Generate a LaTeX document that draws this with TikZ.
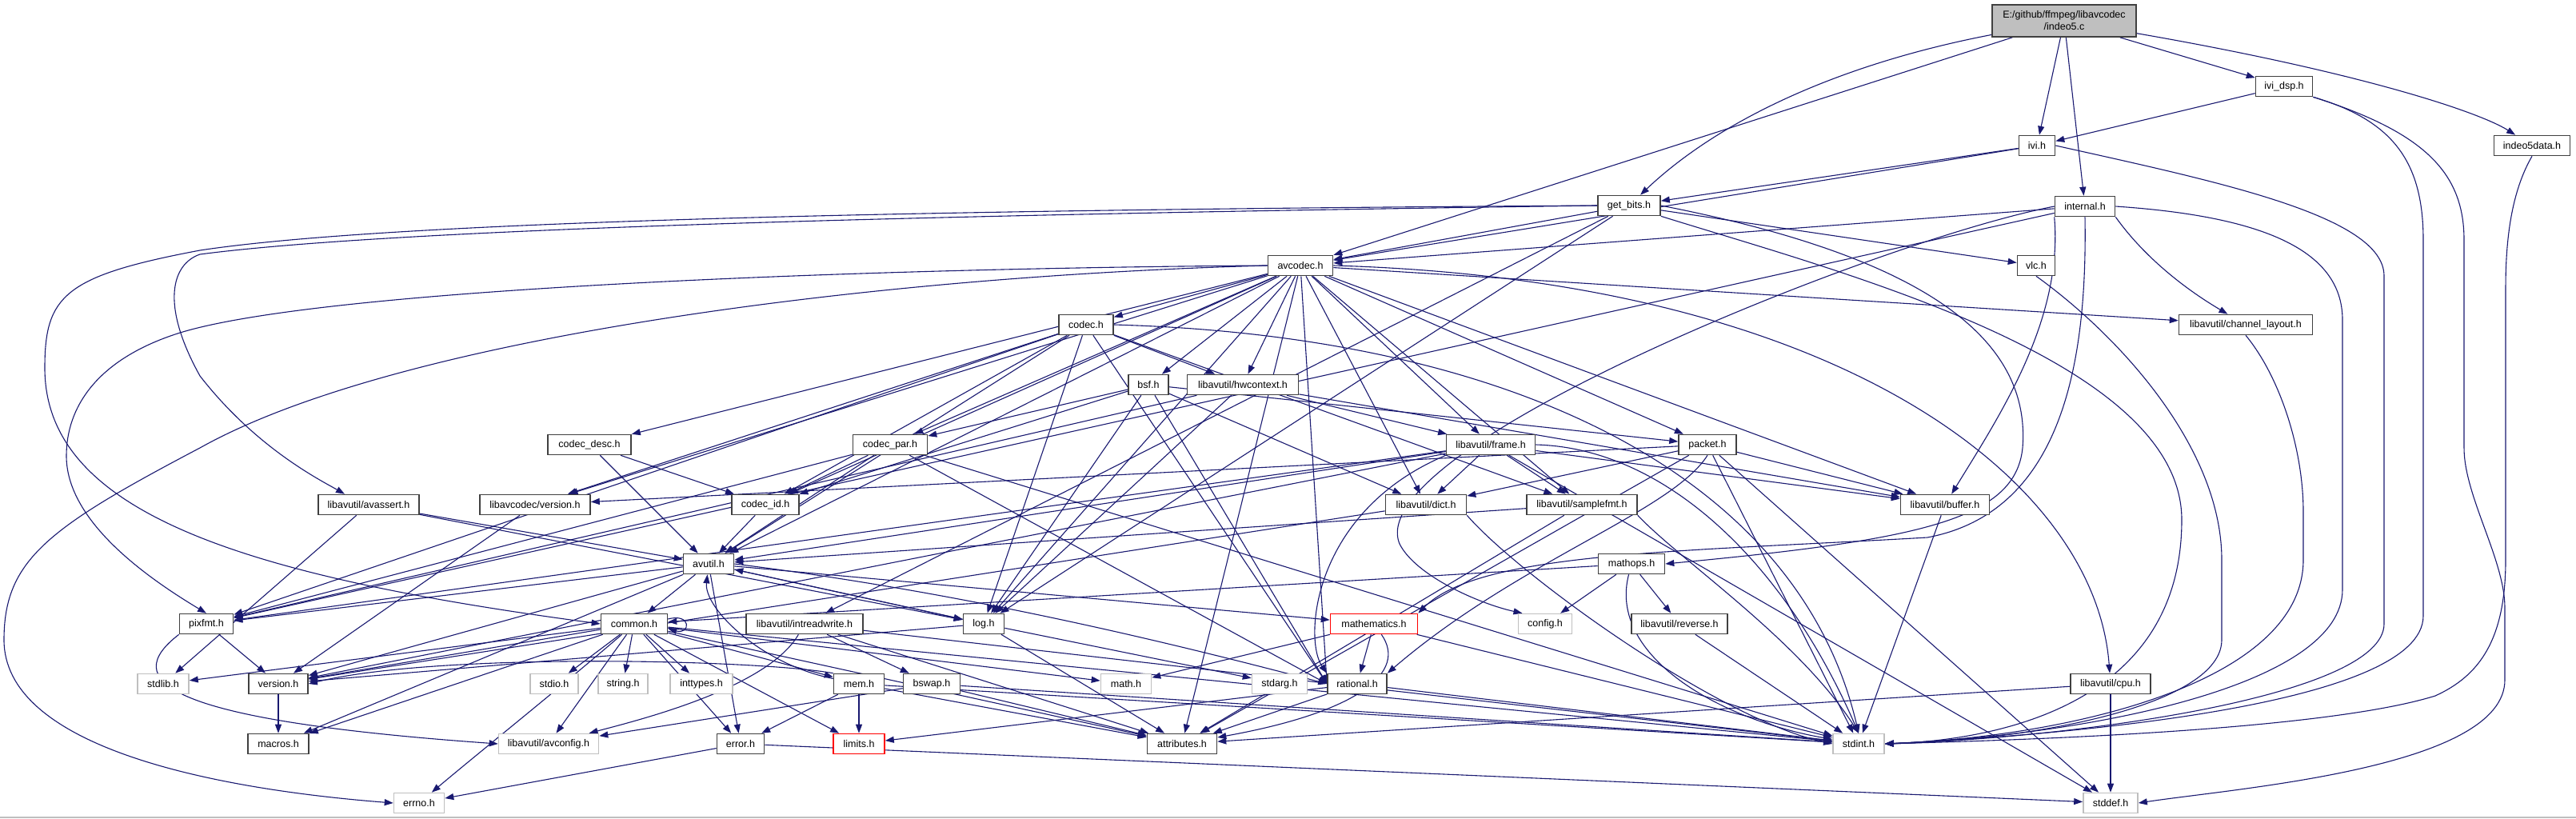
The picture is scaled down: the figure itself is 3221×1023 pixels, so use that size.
\documentclass[tikz,border=0pt]{standalone}
\usepackage{fontspec}
\setmainfont{Liberation Sans}
\usetikzlibrary{arrows.meta}
\definecolor{edgec}{HTML}{191970}
\definecolor{grayb}{HTML}{BFBFBF}
\definecolor{boxb}{HTML}{404040}
\pgfdeclarelayer{bg}
\pgfsetlayers{bg,main}
\tikzset{
  nb/.style={draw=boxb, line width=1.6pt, fill=white, minimum height=25pt, inner sep=0pt, font=\fontsize{12.5}{15}\selectfont},
  sysb/.style={nb, draw=grayb},
  trb/.style={nb, draw=red},
  rootb/.style={nb, fill=grayb, minimum height=40pt, align=center},
  e/.style={draw=edgec, line width=1.1pt, -{Triangle[length=11pt,width=8pt]}},
}
\begin{document}
\begin{tikzpicture}[x=1pt,y=-1pt]
\useasboundingbox (0,0) rectangle (3221,1023);
% nodes
\node[rootb, minimum width=180pt] (i5) at (2581,26) {E:/github/ffmpeg/libavcodec\\/indeo5.c};
\node[nb, minimum width=71pt] (ividsp) at (2856,108) {ivi\_dsp.h};
\node[nb, minimum width=45pt] (ivi) at (2547,182) {ivi.h};
\node[nb, minimum width=95pt] (i5data) at (3166,182) {indeo5data.h};
\node[nb, minimum width=75pt] (internal) at (2607,258) {internal.h};
\node[nb, minimum width=78pt] (getbits) at (2037,257) {get\_bits.h};
\node[nb, minimum width=47pt] (vlc) at (2546,332) {vlc.h};
\node[nb, minimum width=81pt] (avcodec) at (1626,332) {avcodec.h};
\node[nb, minimum width=167pt] (chlayout) at (2808,406) {libavutil/channel\_layout.h};
\node[nb, minimum width=68pt] (codec) at (1358,406) {codec.h};
\node[nb, minimum width=50pt] (bsf) at (1436,481) {bsf.h};
\node[nb, minimum width=139pt] (hwcontext) at (1554,481) {libavutil/hwcontext.h};
\node[nb, minimum width=104pt] (codecdesc) at (737,556) {codec\_desc.h};
\node[nb, minimum width=93pt] (codecpar) at (1113,556) {codec\_par.h};
\node[nb, minimum width=111pt] (frame) at (1864,556) {libavutil/frame.h};
\node[nb, minimum width=72pt] (packet) at (2135,556) {packet.h};
\node[nb, minimum width=126pt] (avassert) at (461,631) {libavutil/avassert.h};
\node[nb, minimum width=138pt] (lavcversion) at (669,631) {libavcodec/version.h};
\node[nb, minimum width=84pt] (codecid) at (957,631) {codec\_id.h};
\node[nb, minimum width=101pt] (dict) at (1783,631) {libavutil/dict.h};
\node[nb, minimum width=138pt] (samplefmt) at (1978,631) {libavutil/samplefmt.h};
\node[nb, minimum width=111pt] (buffer) at (2432,631) {libavutil/buffer.h};
\node[nb, minimum width=63pt] (avutil) at (886,705) {avutil.h};
\node[nb, minimum width=83pt] (mathops) at (2040,705) {mathops.h};
\node[nb, minimum width=67pt] (pixfmt) at (258,780) {pixfmt.h};
\node[nb, minimum width=83pt] (common) at (793,780) {common.h};
\node[nb, minimum width=146pt] (intreadwrite) at (1006,780) {libavutil/intreadwrite.h};
\node[nb, minimum width=51pt] (log) at (1230,780) {log.h};
\node[trb, minimum width=109pt] (mathematics) at (1718,780) {mathematics.h};
\node[sysb, minimum width=67pt] (config) at (1932,780) {config.h};
\node[nb, minimum width=120pt] (reverse) at (2100,780) {libavutil/reverse.h};
\node[sysb, minimum width=64pt] (stdlib) at (204,855) {stdlib.h};
\node[nb, minimum width=74pt] (version) at (348,855) {version.h};
\node[sysb, minimum width=60pt] (stdio) at (693,855) {stdio.h};
\node[sysb, minimum width=62pt] (string) at (779,855) {string.h};
\node[sysb, minimum width=78pt] (inttypes) at (877,855) {inttypes.h};
\node[nb, minimum width=63pt] (mem) at (1074,855) {mem.h};
\node[nb, minimum width=71pt] (bswap) at (1165,855) {bswap.h};
\node[sysb, minimum width=63pt] (math) at (1408,855) {math.h};
\node[sysb, minimum width=69pt] (stdarg) at (1600,855) {stdarg.h};
\node[nb, minimum width=74pt] (rational) at (1697,855) {rational.h};
\node[nb, minimum width=100pt] (cpu) at (2639,855) {libavutil/cpu.h};
\node[nb, minimum width=76pt] (macros) at (348,930) {macros.h};
\node[sysb, minimum width=125pt] (avconfig) at (686,930) {libavutil/avconfig.h};
\node[nb, minimum width=59pt] (error) at (926,930) {error.h};
\node[trb, minimum width=64pt] (limits) at (1074,930) {limits.h};
\node[nb, minimum width=87pt] (attributes) at (1478,930) {attributes.h};
\node[sysb, minimum width=64pt] (stdint) at (2324,930) {stdint.h};
\node[sysb, minimum width=63pt] (errno) at (524,1004) {errno.h};
\node[sysb, minimum width=68pt] (stddef) at (2639,1004) {stddef.h};

\begin{pgfonlayer}{bg}
\draw[grayb, line width=1.5pt] (0,1022) -- (3221,1022);
% indeo5.c
\draw[e] (i5) .. controls (2300,80) and (2150,150) .. (getbits);
\draw[e] (i5) -- (avcodec);
\draw[e] (i5) -- (ivi);
\draw[e] (i5) -- (internal);
\draw[e] (i5) -- (ividsp);
\draw[e] (i5) .. controls (2950,90) and (3100,140) .. (i5data);
% ivi_dsp
\draw[e] (ividsp) -- (ivi);
\draw[e] (ividsp.south east) .. controls (2990,150) and (3030,200) .. (3030,300) -- (3030,770) .. controls (3030,880) and (2600,918) .. (stdint.east);
\draw[e] (ividsp.south east) .. controls (3030,165) and (3081,215) .. (3081,300) -- (3081,560) .. controls (3081,620) and (3132,700) .. (3132,760) -- (3132,850) .. controls (3132,960) and (2800,985) .. (stddef.east);
% indeo5data
\draw[e] (i5data.south) .. controls (3140,240) and (3133,300) .. (3133,360) -- (3133,700) .. controls (3133,800) and (3100,845) .. (3045,870) .. controls (2900,915) and (2500,926) .. (stdint.east);
% ivi
\draw[e] (ivi) -- (getbits);
\draw[e] (ivi) -- (avcodec);
\draw[e] (ivi.east) .. controls (2772,227) and (2981,270) .. (2981,345) -- (2981,780) .. controls (2981,870) and (2600,922) .. (stdint.east);
% internal
\draw[e] (internal) -- (avcodec);
\draw[e] (internal.south west) .. controls (2580,400) and (2500,520) .. (buffer);
\draw[e] (internal.south east) .. controls (2680,320) and (2730,360) .. (chlayout);
\draw[e] (internal.south) .. controls (2610,450) and (2580,640) .. (2410,672) .. controls (2100,690) and (1850,690) .. (mathematics.north east);
\draw[e] (internal) -- (pixfmt);
\draw[e] (internal.west) .. controls (2350,300) and (1700,560) .. (1750,680) .. controls (1770,720) and (1850,755) .. (config.155);
\draw[e] (internal.east) .. controls (2823,270) and (2929,310) .. (2929,400) -- (2929,737) .. controls (2929,860) and (2600,920) .. (stdint.east);
% get_bits
\draw[e] (getbits) -- (avcodec);
\draw[e] (getbits.west) .. controls (1200,262) and (500,275) .. (250,313) .. controls (80,345) and (56,370) .. (56,460) .. controls (56,640) and (300,720) .. (common.west);
\draw[e] (getbits.west) .. controls (1200,268) and (500,285) .. (250,318) .. controls (215,330) and (200,380) .. (250,470) .. controls (320,560) and (400,600) .. ([xshift=-30pt]avassert.north);
\draw[e] (getbits) -- (intreadwrite);
\draw[e] (getbits) -- (log);
\draw[e] (getbits.east) .. controls (2400,320) and (2540,420) .. (2529,560) .. controls (2520,650) and (2400,675) .. (mathops.east);
\draw[e] (getbits) -- (vlc);
\draw[e] (getbits.south east) .. controls (2300,340) and (2728,450) .. (2728,650) .. controls (2728,880) and (2500,925) .. (stdint.east);
% vlc, mathops, reverse
\draw[e] (vlc.south) .. controls (2650,420) and (2778,560) .. (2778,700) -- (2778,800) .. controls (2778,880) and (2550,925) .. (stdint.east);
\draw[e] (mathops) -- (common);
\draw[e] (mathops) -- (reverse);
\draw[e] (mathops) -- (config);
\draw[e] (mathops) .. controls (2010,820) and (2150,900) .. (stdint);
\draw[e] (reverse) -- (stdint);
% avcodec
\draw[e] (avcodec.west) .. controls (1100,345) and (500,420) .. (250,560) .. controls (60,660) and (5,700) .. (5,800) .. controls (5,930) and (250,985) .. (errno.west);
\draw[e] (avcodec) -- (samplefmt);
\draw[e] (avcodec) -- (attributes);
\draw[e] (avcodec) -- (avutil);
\draw[e] (avcodec) -- (buffer);
\draw[e] (avcodec.east) .. controls (2300,350) and (2620,600) .. (cpu);
\draw[e] (avcodec) -- (chlayout);
\draw[e] (avcodec) -- (dict);
\draw[e] (avcodec) -- (frame);
\draw[e] (avcodec) -- (hwcontext);
\draw[e] (avcodec) -- (log);
\draw[e] (avcodec.west) .. controls (1100,335) and (400,360) .. (222,417) .. controls (120,450) and (83,510) .. (83,570) .. controls (83,650) and (180,720) .. (pixfmt.north);
\draw[e] (avcodec) -- (rational.west);
\draw[e] (avcodec) -- (bsf);
\draw[e] (avcodec) -- (codec);
\draw[e] (avcodec) -- (codecdesc);
\draw[e] (avcodec) -- (codecpar);
\draw[e] (avcodec) -- (codecid);
\draw[e] (avcodec) -- (packet);
\draw[e] (avcodec) -- (lavcversion);
% codec
\draw[e] (codec.east) .. controls (1900,420) and (2250,600) .. (stdint.north);
\draw[e] (codec) -- (avutil);
\draw[e] (codec) -- (hwcontext);
\draw[e] (codec) -- (log);
\draw[e] (codec) -- (pixfmt);
\draw[e] (codec) -- (rational.west);
\draw[e] (codec) -- (samplefmt);
\draw[e] (codec) -- (codecid);
\draw[e] (codec) -- (lavcversion);
% codec_desc, codec_id, codec_par
\draw[e] (codecdesc) -- (avutil);
\draw[e] (codecdesc) -- (codecid);
\draw[e] (codecid) -- (avutil);
\draw[e] (codecpar) -- (stdint);
\draw[e] (codecpar) -- (avutil);
\draw[e] (codecpar) -- (rational.west);
\draw[e] (codecpar) -- (pixfmt);
\draw[e] (codecpar) -- (codecid);
% bsf
\draw[e] (bsf) -- (dict);
\draw[e] (bsf) -- (log);
\draw[e] (bsf) -- (rational.west);
\draw[e] (bsf) -- (codecid);
\draw[e] (bsf) -- (codecpar);
\draw[e] (bsf) -- (packet);
% packet
\draw[e] (packet) -- (stddef);
\draw[e] (packet) -- (stdint);
\draw[e] (packet) -- (attributes);
\draw[e] (packet) -- (buffer);
\draw[e] (packet) -- (dict);
\draw[e] (packet.south) .. controls (2090,640) and (1900,700) .. (rational.north east);
\draw[e] (packet) -- (lavcversion);
\draw[e] (lavcversion) -- (version);
% hwcontext
\draw[e] (hwcontext) -- (buffer);
\draw[e] (hwcontext) -- (frame);
\draw[e] (hwcontext) -- (log);
\draw[e] (hwcontext) -- (pixfmt);
% frame
\draw[e] (frame) -- (stddef);
\draw[e] (frame.east) .. controls (2080,560) and (2230,700) .. (stdint.north);
\draw[e] (frame) -- (avutil);
\draw[e] (frame) -- (buffer);
\draw[e] (frame) -- (dict);
\draw[e] (frame.south west) .. controls (1640,640) and (1630,800) .. (rational.north west);
\draw[e] (frame) -- (samplefmt);
\draw[e] (frame) -- (pixfmt);
\draw[e] (frame) -- (version);
% dict, samplefmt, buffer, chlayout, cpu
\draw[e] (dict.south east) .. controls (1900,720) and (2150,900) .. (stdint.west);
\draw[e] (dict) -- (version);
\draw[e] (samplefmt.south east) .. controls (2100,700) and (2250,800) .. (stdint.north);
\draw[e] (samplefmt) -- (avutil);
\draw[e] (samplefmt) -- (attributes);
\draw[e] (buffer) -- (stdint);
\draw[e] (chlayout.south) .. controls (2850,470) and (2880,560) .. (2880,640) -- (2880,700) .. controls (2880,850) and (2600,920) .. (stdint.east);
\draw[e] (cpu) -- (stddef);
\draw[e] (cpu) -- (attributes);
% avassert
\draw[e] (avassert) -- (stdlib);
\draw[e] (avassert) -- (avutil);
\draw[e] (avassert) -- (log);
% avutil
\draw[e] (avutil) -- (common);
\draw[e] (avutil) -- (error);
\draw[e] (avutil.east) .. controls (1200,740) and (1450,800) .. (rational.west);
\draw[e] (avutil) -- (version);
\draw[e] (avutil) -- (macros);
\draw[e] (avutil) -- (mathematics);
\draw[e] (avutil) -- (log);
\draw[e] (avutil) -- (pixfmt);
% common
\draw[e] (common) .. controls (700,860) and (600,940) .. (errno);
\draw[e] (common) -- (inttypes);
\draw[e] (common) -- (limits);
\draw[e] (common) -- (math);
\draw[e] (common) -- (stdint);
\draw[e] (common) -- (stdio);
\draw[e] (common) -- (stdlib);
\draw[e] (common) -- (string);
\draw[e] (common) -- (attributes);
\draw[e] (common) -- (macros);
\draw[e] (common) -- (version);
\draw[e] (common) -- (avconfig);
\draw[e] (common) -- (mem);
\draw[e] (common) -- (error);
\draw[e] ([yshift=6pt]common.east) .. controls +(30,-8) and +(28,8) .. ([yshift=-6pt]common.east);
% log
\draw[e] (log) -- (stdarg);
\draw[e] (log) -- (avutil);
\draw[e] (log) -- (attributes);
\draw[e] (log) -- (version);
% rational, mathematics
\draw[e] (rational) -- (stdint);
\draw[e] (rational) -- (limits);
\draw[e] (rational) -- (attributes);
\draw[e] (mathematics) -- (stdint);
\draw[e] (mathematics) -- (math);
\draw[e] (mathematics) .. controls (1760,840) and (1700,890) .. (attributes);
\draw[e] (mathematics) -- (rational);
% pixfmt, version
\draw[e] (pixfmt.south west) .. controls (150,850) and (200,900) .. (avconfig.west);
\draw[e] (pixfmt) -- (version);
\draw[e] (version) -- (macros);
% mem
\draw[e] (mem) -- (limits);
\draw[e] (mem) -- (stdint);
\draw[e] (mem) -- (attributes);
\draw[e] (mem) -- (error);
\draw[e] (mem) .. controls (950,830) and (880,760) .. (avutil);
\draw[e] (mem.north west) .. controls (950,825) and (550,815) .. (version.east);
% error
\draw[e] (error) -- (errno);
\draw[e] (error) -- (stddef);
% intreadwrite, bswap
\draw[e] (intreadwrite) -- (stdint);
\draw[e] (intreadwrite) .. controls (960,860) and (800,900) .. (avconfig);
\draw[e] (intreadwrite) -- (attributes);
\draw[e] (intreadwrite) -- (bswap);
\draw[e] (bswap) -- (stdint);
\draw[e] (bswap) -- (avconfig);
\draw[e] (bswap) -- (attributes);
\end{pgfonlayer}
\end{tikzpicture}
\end{document}
